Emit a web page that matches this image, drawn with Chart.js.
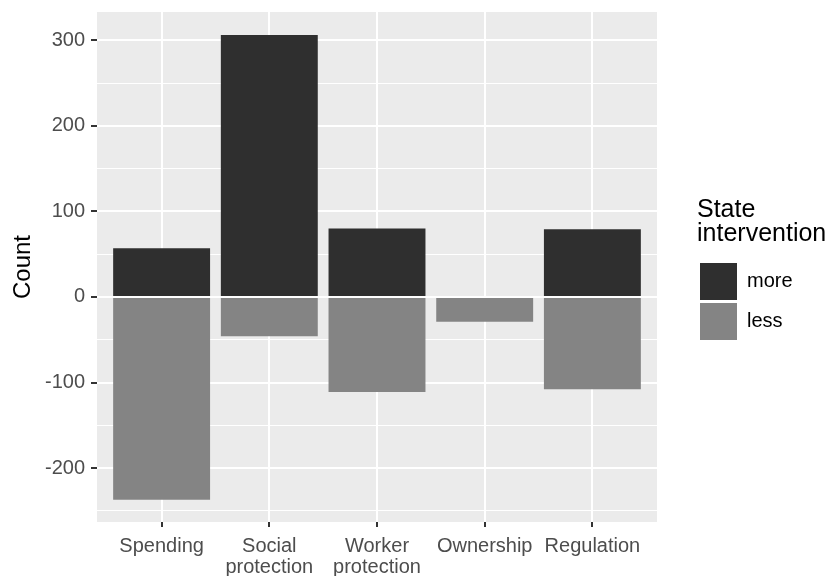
<!DOCTYPE html>
<html lang="en">
<head>
    <meta charset="UTF-8">
    <title>State intervention</title>
    <style>
        html, body {
            margin: 0;
            padding: 0;
            background: #fff;
        }
        #chartContainer {
            width: 829px;
            height: 576px;
        }
    </style>
    <script src="https://cdn.jsdelivr.net/npm/chart.js"></script>
</head>
<body>
    <div id="chartContainer">
        <canvas id="countChart"></canvas>
    </div>

    <script>
        // data
        const categories = [['Spending'], ['Social', 'protection'], ['Worker', 'protection'], ['Ownership'], ['Regulation']];
        const moreCounts = [57, 306, 80, 0, 79];
        const lessCounts = [-237, -46, -111, -29, -108];
        const yTicks = [-250, -200, -150, -100, -50, 0, 50, 100, 150, 200, 250, 300];
        const yLabelled = [-200, -100, 0, 100, 200, 300];

        const FONT = "'Liberation Sans', Arial, sans-serif";
        const isMajor = v => yLabelled.includes(v);

        // grey ggplot-like panel behind the plot area
        const panelBackground = {
            id: 'panelBackground',
            beforeDraw(chart) {
                const { ctx, chartArea: a } = chart;
                ctx.save();
                ctx.fillStyle = '#EBEBEB';
                ctx.fillRect(a.left, a.top, a.right - a.left, a.bottom - a.top);
                ctx.restore();
            }
        };

        // legend box wide enough for its two-line title (legend is clipped to its box)
        const legendWidth = {
            id: 'legendWidth',
            beforeLayout(chart) {
                const lg = chart.legend;
                if (!lg || lg._widened) return;
                const fit = lg.fit;
                lg.fit = function () {
                    fit.call(this);
                    this.width = 132;
                };
                lg._widened = true;
            }
        };

        const toPoints = values => values.map((v, i) => ({ x: i + 1, y: v }));

        const ctx = document.getElementById('countChart').getContext('2d');
        new Chart(ctx, {
            type: 'bar',
            data: {
                datasets: [
                    {
                        label: 'more',
                        data: toPoints(moreCounts),
                        backgroundColor: '#2F2F2F',
                        borderWidth: 0
                    },
                    {
                        label: 'less',
                        data: toPoints(lessCounts),
                        backgroundColor: '#848484',
                        borderWidth: 0
                    }
                ]
            },
            options: {
                responsive: true,
                maintainAspectRatio: false,
                animation: false,
                barPercentage: 0.9,
                categoryPercentage: 1,
                layout: { padding: { left: 0, top: 12, right: 0, bottom: 0 } },
                scales: {
                    x: {
                        type: 'linear',
                        min: 0.4,
                        max: 5.6,
                        offset: false,
                        stacked: true,
                        afterBuildTicks: s => { s.ticks = categories.map((c, i) => ({ value: i + 1 })); },
                        afterFit: s => {
                            s.height = 54;
                            s.paddingLeft = 0;
                            s.paddingRight = 0;
                        },
                        border: { display: false },
                        grid: {
                            offset: false,
                            color: '#FFFFFF',
                            lineWidth: 2,
                            tickColor: '#333333',
                            tickLength: 5,
                            tickWidth: 2
                        },
                        ticks: {
                            autoSkip: false,
                            maxRotation: 0,
                            padding: 9,
                            color: '#4D4D4D',
                            font: { family: FONT, size: 20, lineHeight: 1.05 },
                            callback: v => categories[v - 1]
                        }
                    },
                    y: {
                        min: -263,
                        max: 333,
                        stacked: true,
                        afterBuildTicks: s => { s.ticks = yTicks.map(v => ({ value: v })); },
                        afterFit: s => {
                            s.width = 97;
                            s.paddingTop = 0;
                            s.paddingBottom = 0;
                        },
                        border: { display: false },
                        grid: {
                            color: '#FFFFFF',
                            lineWidth: c => isMajor(c.tick.value) ? 2 : 1,
                            tickColor: c => isMajor(c.tick.value) ? '#333333' : 'rgba(0,0,0,0)',
                            tickLength: 6,
                            tickWidth: 2
                        },
                        ticks: {
                            padding: 6,
                            color: '#4D4D4D',
                            font: { family: FONT, size: 20 },
                            callback: v => isMajor(v) ? String(v) : ''
                        },
                        title: {
                            display: true,
                            text: 'Count',
                            color: '#000000',
                            font: { family: FONT, size: 24 },
                            padding: { top: 9, bottom: 0 }
                        }
                    },
                    // empty axis, only keeps the gap between panel and legend
                    gap: {
                        type: 'linear',
                        position: 'right',
                        afterFit: s => {
                            s.width = 40;
                            s.paddingTop = 0;
                            s.paddingBottom = 0;
                        },
                        border: { display: false },
                        grid: { display: false },
                        ticks: { display: false }
                    }
                },
                plugins: {
                    legend: {
                        position: 'right',
                        align: 'center',
                        fullSize: false,
                        title: {
                            display: true,
                            text: ['State', 'intervention'],
                            position: 'start',
                            color: '#000000',
                            font: { family: FONT, size: 25, lineHeight: 0.96 },
                            padding: { top: 7, bottom: 38 }
                        },
                        labels: {
                            boxWidth: 37,
                            boxHeight: 37,
                            padding: 3,
                            color: '#000000',
                            font: { family: FONT, size: 20 }
                        }
                    },
                    tooltip: { enabled: false }
                }
            },
            plugins: [panelBackground, legendWidth]
        });
    </script>
</body>
</html>
